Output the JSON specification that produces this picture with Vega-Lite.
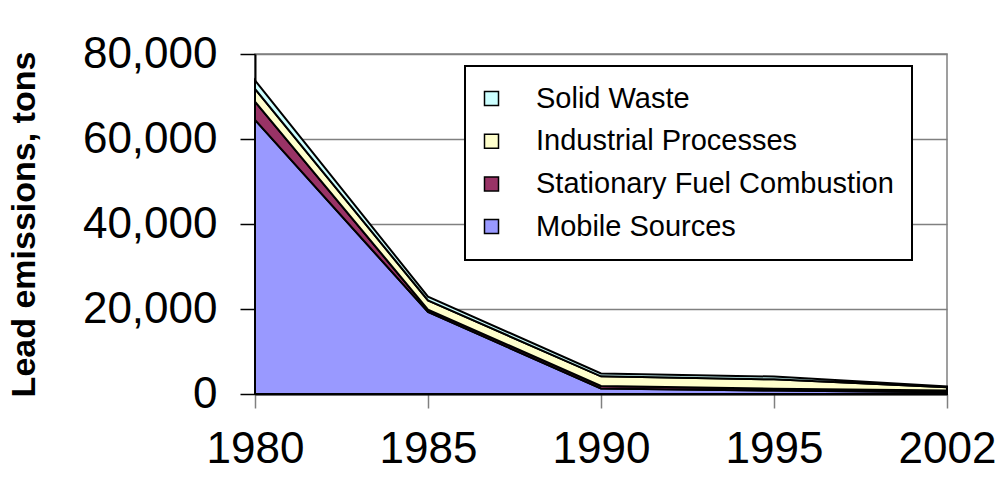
{
  "$schema": "https://vega.github.io/schema/vega-lite/v6.json",
  "autosize": {"type": "none"},
  "width": 692,
  "height": 340,
  "padding": {"left": 255, "top": 54, "right": 50, "bottom": 101},
  "background": "white",
  "config": {
    "font": "Liberation Sans",
    "view": {"stroke": "#808080", "strokeWidth": 1.5}
  },
  "data": {
    "values": [
      {"year": "1980", "source": "Mobile Sources", "tons": 64500, "rank": 1},
      {"year": "1980", "source": "Stationary Fuel Combustion", "tons": 4300, "rank": 2},
      {"year": "1980", "source": "Industrial Processes", "tons": 3000, "rank": 3},
      {"year": "1980", "source": "Solid Waste", "tons": 2000, "rank": 4},
      {"year": "1985", "source": "Mobile Sources", "tons": 19300, "rank": 1},
      {"year": "1985", "source": "Stationary Fuel Combustion", "tons": 550, "rank": 2},
      {"year": "1985", "source": "Industrial Processes", "tons": 2150, "rank": 3},
      {"year": "1985", "source": "Solid Waste", "tons": 900, "rank": 4},
      {"year": "1990", "source": "Mobile Sources", "tons": 1300, "rank": 1},
      {"year": "1990", "source": "Stationary Fuel Combustion", "tons": 600, "rank": 2},
      {"year": "1990", "source": "Industrial Processes", "tons": 2250, "rank": 3},
      {"year": "1990", "source": "Solid Waste", "tons": 700, "rank": 4},
      {"year": "1995", "source": "Mobile Sources", "tons": 800, "rank": 1},
      {"year": "1995", "source": "Stationary Fuel Combustion", "tons": 450, "rank": 2},
      {"year": "1995", "source": "Industrial Processes", "tons": 2200, "rank": 3},
      {"year": "1995", "source": "Solid Waste", "tons": 650, "rank": 4},
      {"year": "2002", "source": "Mobile Sources", "tons": 400, "rank": 1},
      {"year": "2002", "source": "Stationary Fuel Combustion", "tons": 450, "rank": 2},
      {"year": "2002", "source": "Industrial Processes", "tons": 750, "rank": 3},
      {"year": "2002", "source": "Solid Waste", "tons": 150, "rank": 4}
    ]
  },
  "mark": {"type": "area", "stroke": "black", "strokeWidth": 2, "line": false, "opacity": 1},
  "encoding": {
    "x": {
      "field": "year",
      "type": "ordinal",
      "scale": {"type": "point", "padding": 0},
      "axis": {
        "title": null,
        "labelAngle": 0,
        "labelFontSize": 44,
        "labelColor": "black",
        "labelPadding": 19,
        "tickSize": 14,
        "tickColor": "#808080",
        "tickWidth": 1.5,
        "domainColor": "black",
        "domainWidth": 2,
        "grid": false,
        "labelOverlap": false,
        "labelBound": false
      }
    },
    "y": {
      "field": "tons",
      "type": "quantitative",
      "stack": "zero",
      "scale": {"domain": [0, 80000], "nice": false},
      "axis": {
        "title": "Lead emissions, tons",
        "titleFontSize": 34,
        "titleFontWeight": "bold",
        "titleColor": "black",
        "titlePadding": 41,
        "values": [0, 20000, 40000, 60000, 80000],
        "format": ",.0f",
        "labelFontSize": 44,
        "labelColor": "black",
        "labelPadding": 23,
        "tickSize": 15,
        "tickColor": "black",
        "tickWidth": 1.5,
        "domainColor": "black",
        "domainWidth": 2,
        "grid": true,
        "gridColor": "#808080",
        "gridWidth": 1.5
      }
    },
    "color": {
      "field": "source",
      "type": "nominal",
      "scale": {
        "domain": ["Solid Waste", "Industrial Processes", "Stationary Fuel Combustion", "Mobile Sources"],
        "range": ["#CCFFFF", "#FFFFCC", "#993366", "#9999FF"]
      },
      "legend": {
        "title": null,
        "orient": "none",
        "legendX": 210,
        "legendY": 12,
        "fillColor": "white",
        "strokeColor": "black",
        "padding": 18,
        "symbolType": "square",
        "symbolSize": 196,
        "symbolOffset": -6,
        "symbolStrokeColor": "black",
        "symbolStrokeWidth": 1.5,
        "symbolOpacity": 1,
        "labelFontSize": 29,
        "labelColor": "black",
        "labelOffset": 30,
        "labelLimit": 500,
        "rowPadding": 12.7,
        "encode": {"legend": {"update": {"strokeWidth": {"value": 2}}}}
      }
    },
    "order": {"field": "rank", "type": "quantitative", "sort": "ascending"}
  }
}
